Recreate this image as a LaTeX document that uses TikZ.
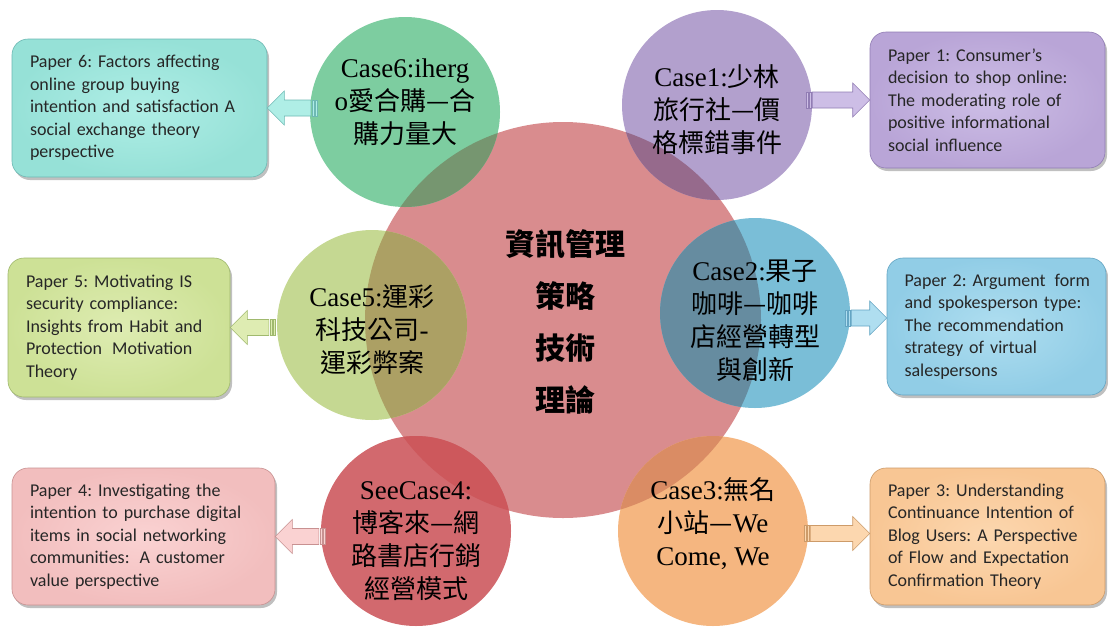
\documentclass[tikz,border=0pt]{standalone}
\usepackage{fontspec}
\setmainfont{Carlito}
\newfontfamily\cjkfont{Noto Sans CJK TC}
\newfontfamily\latnfont{Liberation Serif}
\usetikzlibrary{calc,shadows}
\frenchspacing
\hyphenpenalty=10000
\newcommand\latn[1]{{\latnfont\fontsize{27}{33}\selectfont #1}}
% circle colours
\definecolor{cenc}{RGB}{217,140,142}
\definecolor{g6}{RGB}{125,205,160}
\definecolor{g6o}{RGB}{118,150,112}
\definecolor{g1}{RGB}{178,160,205}
\definecolor{g1o}{RGB}{150,106,140}
\definecolor{g5}{RGB}{197,216,146}
\definecolor{g5o}{RGB}{172,160,100}
\definecolor{g2}{RGB}{122,190,215}
\definecolor{g2o}{RGB}{102,140,160}
\definecolor{g4}{RGB}{210,105,110}
\definecolor{g4o}{RGB}{205,88,92}
\definecolor{g3}{RGB}{245,182,128}
\definecolor{g3o}{RGB}{218,140,100}
% box colours
\definecolor{b6}{RGB}{150,225,215}
\definecolor{b6i}{RGB}{175,238,230}
\definecolor{b6l}{RGB}{110,185,180}
\definecolor{b1}{RGB}{185,165,215}
\definecolor{b1i}{RGB}{205,190,230}
\definecolor{b1l}{RGB}{145,125,180}
\definecolor{b5}{RGB}{205,225,150}
\definecolor{b5i}{RGB}{222,236,178}
\definecolor{b5l}{RGB}{160,185,110}
\definecolor{b2}{RGB}{145,205,230}
\definecolor{b2i}{RGB}{175,222,240}
\definecolor{b2l}{RGB}{100,165,195}
\definecolor{b4}{RGB}{242,190,190}
\definecolor{b4i}{RGB}{250,210,210}
\definecolor{b4l}{RGB}{200,145,145}
\definecolor{b3}{RGB}{248,198,148}
\definecolor{b3i}{RGB}{252,215,175}
\definecolor{b3l}{RGB}{205,155,105}
\newcommand\barrow[6]{% tail, tip, head offset, unit dir, fill, line
  \filldraw[fill=#5, draw=#6, line width=0.6pt, line join=miter]
    (#2) -- ($(#2)+(#3,-17)$) -- ($(#2)+(#3,-8)$) -- ($(#1)+(#4*6,-8)$)
    -- ($(#1)+(#4*6,8)$) -- ($(#2)+(#3,8)$) -- ($(#2)+(#3,17)$) -- cycle;
  \filldraw[fill=#5, draw=#6, line width=0.4pt] ($(#1)+(0,-8)$) rectangle ($(#1)+(#4*1.8,8)$);
  \filldraw[fill=#5, draw=#6, line width=0.4pt] ($(#1)+(#4*3,-8)$) rectangle ($(#1)+(#4*4.6,8)$);
}
\begin{document}
\begin{tikzpicture}[x=1pt,y=-1pt,
  circ/.style={circle, inner sep=0pt, draw=none},
  ctext/.style={align=center, font=\cjkfont\fontsize{26}{33}\selectfont},
  paperbox/.style={rounded corners=16pt, align=left, inner xsep=17pt,
     font=\fontsize{18}{22.5}\selectfont, text=black!85,
     draw=#1, line width=0.6pt,
     drop shadow={shadow xshift=2pt, shadow yshift=-3pt, opacity=0.35, fill=black!70}},
]
\useasboundingbox (0,0) rectangle (1108,630);
\fill[white] (0,0) rectangle (1108,630);

% central circle
\node[circ, fill=cenc, minimum size=396pt] (C) at (563,320) {};
% satellite circles
\node[circ, fill=g6, minimum size=190pt] (c6) at (405,112) {};
\node[circ, fill=g1, minimum size=190pt] (c1) at (717,105) {};
\node[circ, fill=g5, minimum size=190pt] (c5) at (372,325) {};
\node[circ, fill=g2, minimum size=190pt] (c2) at (755,313) {};
\node[circ, fill=g4, minimum size=190pt] (c4) at (416,531) {};
\node[circ, fill=g3, minimum size=190pt] (c3) at (713,531) {};
% overlaps
\begin{scope}
  \clip (C.center) circle (198pt);
  \fill[g6o] (c6.center) circle (95pt);
  \fill[g1o] (c1.center) circle (95pt);
  \fill[g5o] (c5.center) circle (95pt);
  \fill[g2o] (c2.center) circle (95pt);
  \fill[g4o] (c4.center) circle (95pt);
  \fill[g3o] (c3.center) circle (95pt);
\end{scope}

% central text
\node[align=center, font=\cjkfont\bfseries\fontsize{30}{52}\selectfont] (Ct) at (565,322) {資訊管理\\策略\\技術\\理論};

% circle texts
\node[ctext] (t6) at ($(c6.center)+(0,-10)$) {\latn{Case6:iherg}\\\latn{o}愛合購—合\\購力量大};
\node[ctext] (t1) at ($(c1.center)+(0,5)$) {\latn{Case1:}少林\\旅行社—價\\格標錯事件};
\node[ctext] (t5) at ($(c5.center)+(0,5)$) {\latn{Case5:}運彩\\科技公司\latn{-}\\運彩弊案};
\node[ctext] (t2) at ($(c2.center)+(0,8)$) {\latn{Case2:}果子\\咖啡—咖啡\\店經營轉型\\與創新};
\node[ctext] (t4) at ($(c4.center)+(0,10)$) {\latn{SeeCase4:}\\博客來—網\\路書店行銷\\經營模式};
\node[ctext] (t3) at ($(c3.center)+(0,-7)$) {\latn{Case3:}無名\\小站—\latn{We}\\\latn{Come, We}};

% paper boxes
\node[paperbox=b6l, shading=radial, inner color=b6i, outer color=b6,
  minimum width=255pt, minimum height=138pt, text width=219pt] (p6) at (139.5,108)
  {Paper 6: Factors affecting\\online group buying\\intention and satisfaction A\\social exchange theory\\perspective};
\node[paperbox=b1l, shading=radial, inner color=b1i, outer color=b1,
  minimum width=235pt, minimum height=136pt, text width=199pt] (p1) at (987.5,100)
  {Paper 1: Consumer's\\decision to shop online:\\The moderating role of\\positive informational\\social influence};
\node[paperbox=b5l, shading=radial, inner color=b5i, outer color=b5,
  minimum width=222pt, minimum height=139pt, text width=186pt] (p5) at (119,327.5)
  {Paper 5: Motivating IS\\security compliance:\\Insights from Habit and\\\mbox{Protection\hspace{4pt} Motivation}\\Theory};
\node[paperbox=b2l, shading=radial, inner color=b2i, outer color=b2,
  minimum width=219pt, minimum height=137pt, text width=184pt] (p2) at (996.5,326.5)
  {\mbox{Paper 2: Argument\hspace{3pt} form}\\\mbox{and spokesperson type:}\\The recommendation\\strategy of virtual\\salespersons};
\node[paperbox=b4l, shading=radial, inner color=b4i, outer color=b4,
  minimum width=263pt, minimum height=137pt, text width=227pt] (p4) at (143.5,536.5)
  {Paper 4: Investigating the\\\mbox{intention to purchase digital}\\items in social networking\\\mbox{communities:\hspace{4pt} A customer}\\value perspective};
\node[paperbox=b3l, shading=radial, inner color=b3i, outer color=b3,
  minimum width=235pt, minimum height=137pt, text width=199pt] (p3) at (987.5,536.5)
  {Paper 3: Understanding\\Continuance Intention of\\\mbox{Blog Users: A Perspective}\\of Flow and Expectation\\Confirmation Theory};

% arrow end points
\coordinate (a6t) at ([xshift=7pt]c6.west |- p6.east);
\coordinate (a6h) at (p6.east |- a6t);
\coordinate (a1t) at ([xshift=-6pt]c1.east |- p1.west);
\coordinate (a1h) at (p1.west |- a1t);
\coordinate (a5t) at ([xshift=-2pt]c5.west |- p5.east);
\coordinate (a5h) at (p5.east |- a5t);
\coordinate (a2t) at ([xshift=-5pt, yshift=8.5pt]c2.east |- p2.west);
\coordinate (a2h) at (p2.west |- a2t);
\coordinate (a4t) at ([xshift=4pt]c4.west |- p4.east);
\coordinate (a4h) at (p4.east |- a4t);
\coordinate (a3t) at ([xshift=-4pt, yshift=3pt]c3.east |- p3.west);
\coordinate (a3h) at (p3.west |- a3t);

% arrows
\barrow{a6t}{a6h}{17}{-1}{b6i}{b6l}
\barrow{a1t}{a1h}{-17}{1}{b1i}{b1l}
\barrow{a5t}{a5h}{17}{-1}{b5i}{b5l}
\barrow{a2t}{a2h}{-17}{1}{b2i}{b2l}
\barrow{a4t}{a4h}{17}{-1}{b4i}{b4l}
\barrow{a3t}{a3h}{-17}{1}{b3i}{b3l}
\end{tikzpicture}
\end{document}
